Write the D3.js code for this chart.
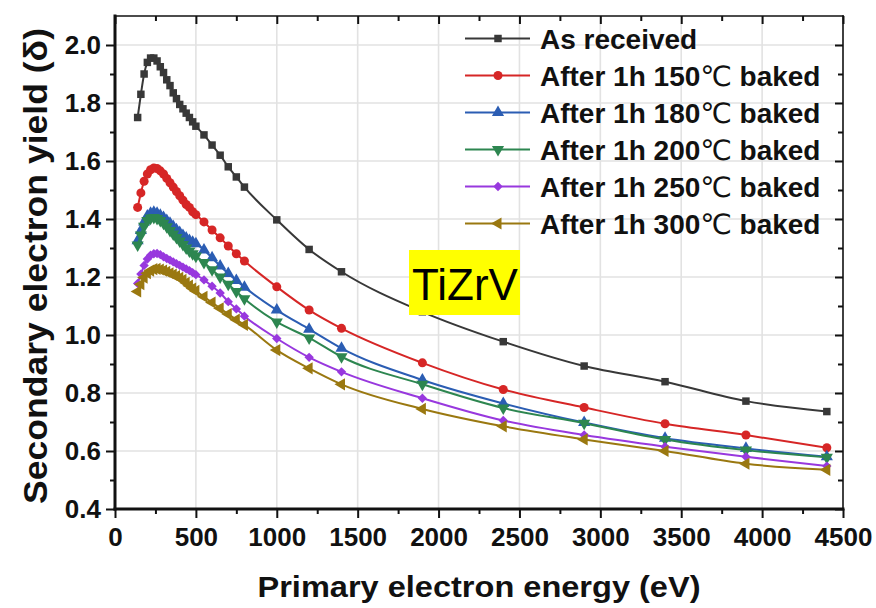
<!DOCTYPE html>
<html>
<head>
<meta charset="utf-8">
<script src="https://cdn.jsdelivr.net/npm/d3@7"></script>
<style>
	body { margin: 0; background: #fff; }
	svg { display: block; font-family: 'Liberation Sans', Arial, sans-serif; }
</style>
</head>
<body>
<svg id="chart"></svg>
<script>
// primary electron energy (eV)
const energy = [140, 160, 180, 200, 220, 240, 260, 280, 300, 320, 340, 360, 380, 400, 420, 440, 460, 480, 500,
	550, 600, 650, 700, 750, 800, 1000, 1200, 1400, 1900, 2400, 2900, 3400, 3900, 4400];

// secondary electron yield per treatment
const asReceived = [1.75, 1.83, 1.90, 1.94, 1.955, 1.955, 1.945, 1.925, 1.905, 1.88, 1.86, 1.835, 1.815, 1.795, 1.78, 1.765, 1.75, 1.735, 1.72,
	1.69, 1.655, 1.62, 1.58, 1.545, 1.51, 1.397, 1.295, 1.218, 1.08, 0.977, 0.893, 0.839, 0.772, 0.736];
const baked150 = [1.44, 1.49, 1.53, 1.555, 1.57, 1.576, 1.574, 1.566, 1.555, 1.54, 1.525, 1.51, 1.495, 1.48, 1.465, 1.45, 1.44, 1.425, 1.415,
	1.39, 1.362, 1.335, 1.307, 1.28, 1.255, 1.166, 1.086, 1.023, 0.904, 0.812, 0.75, 0.694, 0.655, 0.611];
const baked180 = [1.325, 1.36, 1.39, 1.41, 1.42, 1.423, 1.42, 1.413, 1.405, 1.395, 1.385, 1.374, 1.363, 1.353, 1.343, 1.334, 1.326, 1.32, 1.315,
	1.293, 1.266, 1.238, 1.212, 1.188, 1.165, 1.086, 1.02, 0.954, 0.845, 0.764, 0.698, 0.644, 0.609, 0.58];
const baked200 = [1.31, 1.345, 1.375, 1.395, 1.403, 1.405, 1.402, 1.395, 1.385, 1.373, 1.36, 1.348, 1.336, 1.324, 1.312, 1.3, 1.29, 1.28, 1.272,
	1.25, 1.225, 1.2, 1.175, 1.15, 1.125, 1.045, 0.99, 0.925, 0.83, 0.748, 0.696, 0.64, 0.603, 0.578];
const baked250 = [1.178, 1.21, 1.24, 1.262, 1.275, 1.28, 1.281, 1.277, 1.27, 1.264, 1.258, 1.252, 1.246, 1.24, 1.234, 1.228, 1.222, 1.215, 1.208,
	1.19, 1.168, 1.145, 1.115, 1.09, 1.065, 0.988, 0.923, 0.873, 0.782, 0.705, 0.655, 0.615, 0.58, 0.548];
const baked300 = [1.15, 1.175, 1.198, 1.213, 1.222, 1.227, 1.228, 1.226, 1.222, 1.218, 1.213, 1.208, 1.203, 1.197, 1.19, 1.18, 1.17, 1.16, 1.152,
	1.132, 1.112, 1.092, 1.072, 1.053, 1.035, 0.948, 0.885, 0.83, 0.745, 0.685, 0.64, 0.6, 0.556, 0.535];

const seriesNames = ['As received', 'After 1h 150℃ baked', 'After 1h 180℃ baked', 'After 1h 200℃ baked', 'After 1h 250℃ baked', 'After 1h 300℃ baked'];
const seriesValues = [asReceived, baked150, baked180, baked200, baked250, baked300];

const xTicks = [0, 500, 1000, 1500, 2000, 2500, 3000, 3500, 4000, 4500];
const yTicks = [0.4, 0.6, 0.8, 1.0, 1.2, 1.4, 1.6, 1.8, 2.0];
const xMinor = [250, 750, 1250, 1750, 2250, 2750, 3250, 3750, 4250];
const yMinor = [0.5, 0.7, 0.9, 1.1, 1.3, 1.5, 1.7, 1.9];

const colors = ['#383838', '#d62626', '#2b5db3', '#2d8650', '#9838de', '#9a7810'];
// symbol type + rotation for each series
const symbols = [
	{ type: d3.symbolSquare, size: 56, rotate: 0 },
	{ type: d3.symbolCircle, size: 64, rotate: 0 },
	{ type: d3.symbolTriangle, size: 64, rotate: 0 },
	{ type: d3.symbolTriangle, size: 64, rotate: 180 },
	{ type: d3.symbolSquare, size: 44, rotate: 45 },
	{ type: d3.symbolTriangle, size: 64, rotate: -90 }
];

const width = 876;
const height = 608;

const svg = d3.select('#chart')
	.attr('width', width)
	.attr('height', height);

const x = d3.scaleLinear().domain([0, 4500]).range([115, 843]);
const y = d3.scaleLinear().domain([0.4, 2.1]).range([509, 16]);

// grid
const grid = svg.append('g')
	.attr('stroke', '#e2e2e2')
	.attr('stroke-width', 1.6);
grid.selectAll('line.gx').data(xTicks.slice(1, -1)).enter()
	.append('line').attr('class', 'gx')
	.attr('x1', d => x(d)).attr('x2', d => x(d))
	.attr('y1', y.range()[1]).attr('y2', y.range()[0]);
grid.selectAll('line.gy').data(yTicks.slice(1)).enter()
	.append('line').attr('class', 'gy')
	.attr('x1', x.range()[0]).attr('x2', x.range()[1])
	.attr('y1', d => y(d)).attr('y2', d => y(d));

// axes
const tickStyle = g => {
	g.select('.domain').remove();
	g.selectAll('.tick line').attr('stroke', '#111').attr('stroke-width', 2);
	g.selectAll('.tick text')
		.attr('fill', '#111')
		.attr('font-size', 26)
		.attr('font-weight', 'bold')
		.attr('font-family', "'Liberation Sans', Arial, sans-serif");
};

svg.append('g').attr('transform', `translate(0,${y(0.4)})`)
	.call(d3.axisBottom(x).tickValues(xMinor).tickSize(5).tickFormat(''))
	.call(tickStyle);
svg.append('g').attr('transform', `translate(0,${y(0.4)})`)
	.call(d3.axisBottom(x).tickValues(xTicks).tickSize(9).tickPadding(10).tickFormat(d3.format('d')))
	.call(tickStyle);
svg.append('g').attr('transform', `translate(0,${y.range()[1]})`)
	.call(d3.axisTop(x).tickValues(xMinor).tickSize(-5).tickFormat(''))
	.call(tickStyle);
svg.append('g').attr('transform', `translate(0,${y.range()[1]})`)
	.call(d3.axisTop(x).tickValues(xTicks).tickSize(-8).tickFormat(''))
	.call(tickStyle);

svg.append('g').attr('transform', `translate(${x(0)},0)`)
	.call(d3.axisLeft(y).tickValues(yMinor).tickSize(5).tickFormat(''))
	.call(tickStyle);
svg.append('g').attr('transform', `translate(${x(0)},0)`)
	.call(d3.axisLeft(y).tickValues(yTicks).tickSize(9).tickPadding(5).tickFormat(d3.format('.1f')))
	.call(tickStyle);
svg.append('g').attr('transform', `translate(${x(4500)},0)`)
	.call(d3.axisRight(y).tickValues(yMinor).tickSize(-5).tickFormat(''))
	.call(tickStyle);
svg.append('g').attr('transform', `translate(${x(4500)},0)`)
	.call(d3.axisRight(y).tickValues(yTicks).tickSize(-8).tickFormat(''))
	.call(tickStyle);

// frame
const frame = svg.append('g').attr('stroke', '#111').attr('stroke-linecap', 'square');
frame.append('line').attr('x1', x(0)).attr('x2', x(4500)).attr('y1', y.range()[1]).attr('y2', y.range()[1]).attr('stroke-width', 1.6);
frame.append('line').attr('x1', x(4500)).attr('x2', x(4500)).attr('y1', y.range()[1]).attr('y2', y(0.4)).attr('stroke-width', 1.6);
frame.append('line').attr('x1', x(0)).attr('x2', x(4500)).attr('y1', y(0.4)).attr('y2', y(0.4)).attr('stroke-width', 3);
frame.append('line').attr('x1', x(0)).attr('x2', x(0)).attr('y1', y.range()[1]).attr('y2', y(0.4)).attr('stroke-width', 3);

// series
const line = d3.line()
	.x((d, i) => x(energy[i]))
	.y(d => y(d))
	.curve(d3.curveMonotoneX);

const symbolPath = s => d3.symbol().type(s.type).size(s.size)();

seriesValues.forEach((values, k) => {
	const g = svg.append('g');
	g.append('path').datum(values)
		.attr('d', line)
		.attr('fill', 'none')
		.attr('stroke', colors[k])
		.attr('stroke-width', 2);
	g.selectAll('path.marker').data(values).enter()
		.append('path').attr('class', 'marker')
		.attr('d', symbolPath(symbols[k]))
		.attr('fill', colors[k])
		.attr('transform', (d, i) => `translate(${x(energy[i])},${y(d)}) rotate(${symbols[k].rotate})`);
});

// legend
const legend = svg.append('g');
seriesNames.forEach((name, k) => {
	const cy = 38.5 + k * 37;
	legend.append('line')
		.attr('x1', 465).attr('x2', 530).attr('y1', cy).attr('y2', cy)
		.attr('stroke', colors[k]).attr('stroke-width', 2);
	legend.append('path')
		.attr('d', symbolPath(symbols[k]))
		.attr('fill', colors[k])
		.attr('transform', `translate(498,${cy}) rotate(${symbols[k].rotate})`);
	const text = legend.append('text')
		.attr('x', 540).attr('y', cy + 10)
		.attr('font-size', 28).attr('font-weight', 'bold').attr('fill', '#111');
	const parts = name.split('℃');
	text.append('tspan').text(parts[0]);
	if (parts.length > 1) {
		text.append('tspan').text('℃')
			.attr('font-family', "'DejaVu Sans', sans-serif")
			.attr('font-weight', 'normal');
		text.append('tspan').text(parts[1]);
	}
});

// sample label
svg.append('rect')
	.attr('x', 409).attr('y', 250).attr('width', 111).attr('height', 65)
	.attr('fill', '#ffff00');
svg.append('text')
	.attr('x', 412).attr('y', 300)
	.attr('font-size', 44)
	.attr('fill', '#000')
	.text('TiZrV');

// axis titles
svg.append('text')
	.attr('x', 479).attr('y', 597)
	.attr('text-anchor', 'middle')
	.attr('font-size', 29).attr('font-weight', 'bold').attr('fill', '#111')
	.attr('textLength', 443).attr('lengthAdjust', 'spacingAndGlyphs')
	.text('Primary electron energy (eV)');
svg.append('text')
	.attr('transform', 'translate(47,266) rotate(-90)')
	.attr('text-anchor', 'middle')
	.attr('font-size', 33).attr('font-weight', 'bold').attr('fill', '#111')
	.attr('textLength', 476).attr('lengthAdjust', 'spacingAndGlyphs')
	.text('Secondary electron yield (δ)');
</script>
</body>
</html>
